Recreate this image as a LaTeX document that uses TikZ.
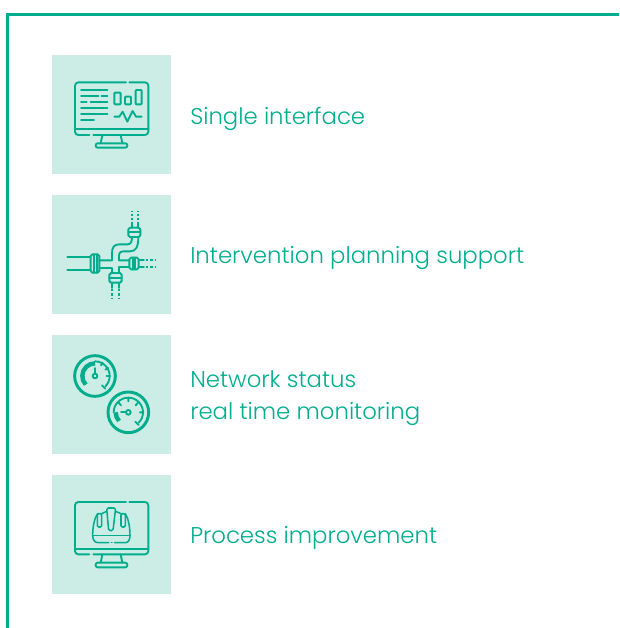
\documentclass[tikz,border=0pt]{standalone}
\usepackage{fontspec}
\setmainfont{Poppins Light}
\definecolor{brandgreen}{HTML}{00AE8E}
\definecolor{tile}{HTML}{CCEDE6}
\tikzset{
  px/.style={x=0.75pt,y=-0.75pt},
  frameline/.style={draw=brandgreen,line width=2.2pt},
  tilebox/.style={fill=tile,draw=none},
  ic/.style={draw=brandgreen,line width=1.4pt,line cap=round,line join=round},
  icthick/.style={draw=brandgreen,line width=1.7pt,line cap=butt},
  dots/.style={draw=brandgreen,line width=1.6pt,dash pattern=on 1.7pt off 1.5pt},
  lab/.style={text=brandgreen,font=\fontsize{17.1}{24}\selectfont,anchor=west,inner sep=0pt,align=left}
}
\begin{document}
\begin{tikzpicture}[px]
\useasboundingbox (0,0) rectangle (619,628);
\fill[white] (0,0) rectangle (619,628);
\draw[frameline] (7.2,628) -- (7.2,14.2) -- (619,14.2);
\foreach \y in {55,195,335,475} \fill[tilebox] (52,\y) rectangle (171,\y+119);
% icon 1
\begin{scope}[shift={(50,50)},scale=1/3]
\draw[ic,rounded corners=2.5pt] (228,97) -- (75,97) -- (75,255) -- (118,255);
\draw[ic,rounded corners=2.5pt] (130,255) -- (295,255) -- (295,97) -- (238,97);
\draw[ic] (75,236) -- (295,236);
\draw[ic] (157,255) -- (152,280) (212,255) -- (217,280);
\draw[ic,rounded corners=1.5pt] (137,280) rectangle (232,293);
\draw[ic] (93,120) -- (172,120) (93,137) -- (145,137) (155,137) -- (172,137) (93,157) -- (110,157) (122,157) -- (172,157) (93,174) -- (172,174) (93,192) -- (172,192) (93,210) -- (132,210);
\draw[ic,rounded corners=.5pt] (193,128) rectangle (212,163) (225,140) rectangle (243,163) (257,120) rectangle (275,163);
\draw[ic] (193,200) -- (208,200) -- (218,185) -- (232,215) -- (248,183) -- (258,200) -- (275,200);
\end{scope}
% icon 2
\begin{scope}[shift={(50,192)},scale=1/3]
\draw[ic] (52,195) -- (122,195) (52,234) -- (122,234);
\draw[ic,rounded corners=1.2pt] (122,187) rectangle (148,242);
\draw[ic] (131,187) -- (131,242) (140,187) -- (140,242);
\draw[ic] (148,205) -- (186,205) -- (186,185) .. controls (186,165) and (192,157) .. (210,157) -- (232,157) .. controls (242,157) and (246,150) .. (246,135);
\draw[ic] (148,229) -- (187,229) -- (187,243);
\draw[ic] (238,205) -- (207,205) -- (207,192) .. controls (207,182) and (212,178) .. (222,178) -- (240,178) .. controls (258,178) and (265,165) .. (265,135);
\draw[ic] (238,224) -- (207,224) -- (207,243);
\draw[ic,rounded corners=1.2pt] (235,107) rectangle (271,135);
\draw[ic] (235,121) -- (271,121);
\draw[ic] (245,92) -- (245,107) (263,92) -- (263,107);
\draw[dots] (245,85) -- (245,58) (263,85) -- (263,58);
\draw[ic,rounded corners=1.2pt] (238,197) rectangle (266,232);
\draw[ic] (248,197) -- (248,232) (256,197) -- (256,232);
\draw[ic] (266,205) -- (282,205) (266,224) -- (282,224);
\draw[dots] (288,205) -- (318,205) (288,224) -- (318,224);
\draw[ic,rounded corners=1.2pt] (178,243) rectangle (215,272);
\draw[ic] (178,257) -- (215,257);
\draw[ic] (187,272) -- (187,288) (207,272) -- (207,288);
\draw[dots] (186,291) -- (186,318) (207,291) -- (207,318);
\end{scope}
% icon 3 (angles run clockwise on screen: the y axis points down)
\begin{scope}[shift={(50,332)},scale=1/3]
\draw[icthick,line width=2.2pt] (135,132) circle[radius=61];
\draw[icthick,line width=3.3pt] (135,132) ++(137:38) arc[start angle=137,end angle=270,radius=38];
\draw[ic] (135,132) ++(270:44) arc[start angle=270,end angle=405,radius=44];
\draw[ic] (135,132) circle[radius=7];
\draw[ic] (135,125) -- (135,108);
\draw[ic] (153,100) -- (158,92) (170,132) -- (180,132) (166,113) -- (175,108);
\draw[ic] (156,160) -- (166,170);
\draw[icthick,line width=2.2pt] (235,241) circle[radius=61];
\draw[icthick,line width=3.3pt] (235,241) ++(137:38) arc[start angle=137,end angle=180,radius=38];
\draw[ic] (235,241) ++(180:44) arc[start angle=180,end angle=405,radius=44];
\draw[ic] (235,241) circle[radius=7];
\draw[ic] (228,241) -- (213,241);
\draw[ic] (235,197) -- (235,208) (206,212) -- (213,220) (264,212) -- (257,220) (270,241) -- (280,241);
\draw[ic] (256,269) -- (266,279);
\end{scope}
% icon 4
\begin{scope}[shift={(50,472)},scale=1/3]
\draw[ic,rounded corners=2.5pt] (228,90) -- (75,90) -- (75,247) -- (118,247);
\draw[ic,rounded corners=2.5pt] (130,247) -- (295,247) -- (295,90) -- (238,90);
\draw[ic] (75,230) -- (295,230);
\draw[ic] (157,247) -- (152,272) (212,247) -- (217,272);
\draw[ic,rounded corners=1.5pt] (137,272) rectangle (232,286);
\draw[ic,line width=1.15pt] (128,190) .. controls (128,160) and (135,135) .. (143,125);
\draw[ic,line width=1.15pt] (240,190) .. controls (240,160) and (233,135) .. (226,125);
\draw[ic,line width=1.15pt] (155,125) -- (170,118) (213,125) -- (197,118);
\draw[ic,line width=1.15pt,rounded corners=1pt] (142,125) rectangle (155,165) (213,125) rectangle (226,165);
\draw[ic,line width=1.15pt,rounded corners=1.2pt] (170,108) -- (197,108) -- (189,176) -- (176,176) -- cycle;
\draw[ic,line width=1.15pt] (128,190) -- (240,190);
\draw[ic,line width=1.15pt] (128,190) .. controls (128,205) and (135,212) .. (145,212) -- (176,212);
\draw[ic,line width=1.15pt] (194,212) -- (225,212) .. controls (235,212) and (240,205) .. (240,190);
\draw[ic,line width=1.15pt] (184,212) -- (186,212);
\end{scope}
\node[lab] (a) at (190,119) {Single interface};
\node[lab] (b) at (190,258) {Intervention planning support};
\node[lab] (c) at (190,398) {Network status\\real time monitoring};
\node[lab] (d) at (190,538) {Process improvement};
\end{tikzpicture}
\end{document}
